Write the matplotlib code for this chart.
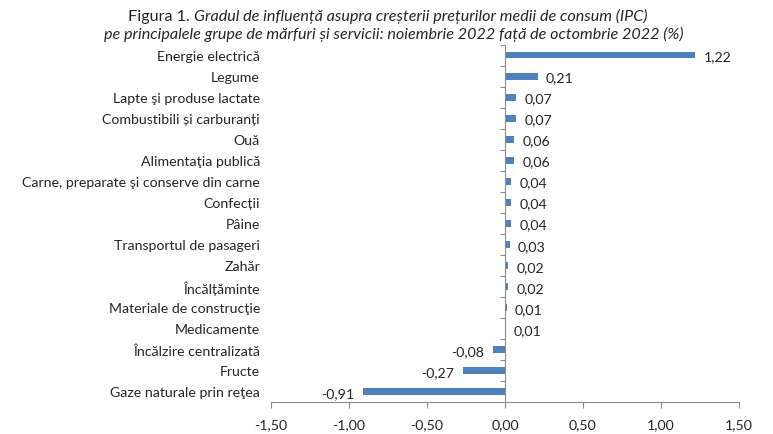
import matplotlib
matplotlib.use("Agg")
import matplotlib.pyplot as plt
import numpy as np

plt.rcParams['font.family'] = ['Lato', 'DejaVu Sans']

categories = ["Energie electrică", "Legume", "Lapte şi produse lactate",
              "Combustibili și carburanți", "Ouă", "Alimentaţia publică",
              "Carne, preparate şi conserve din carne", "Confecții", "Pâine",
              "Transportul de pasageri", "Zahăr", "Încălțăminte",
              "Materiale de construcţie", "Medicamente", "Încălzire centralizată",
              "Fructe", "Gaze naturale prin reţea"]
values = [1.22, 0.21, 0.07, 0.07, 0.06, 0.06, 0.04, 0.04, 0.04, 0.03,
          0.02, 0.02, 0.01, 0.004, -0.08, -0.27, -0.91]
value_labels = ["1,22", "0,21", "0,07", "0,07", "0,06", "0,06", "0,04", "0,04",
                "0,04", "0,03", "0,02", "0,02", "0,01", "0,01", "-0,08",
                "-0,27", "-0,91"]
xticks = [-1.5, -1.0, -0.5, 0.0, 0.5, 1.0, 1.5]

txt = '#262626'
grey = '#8c8c8c'
bar_color = '#4f81bd'
fs = 10.2

fig = plt.figure(figsize=(7.73, 4.35), dpi=100)
ax = fig.add_axes([0.3506, 0.0736, 0.6054, 0.8218])

y = np.arange(len(categories))
ax.barh(y, values, height=0.33, color=bar_color)

for yi, v, lab in zip(y, values, value_labels):
    if v >= 0:
        ax.annotate(lab, (v, yi), xytext=(6, -1), textcoords='offset points',
                    ha='left', va='center', fontsize=fs, color=txt)
    else:
        ax.annotate(lab, (v, yi), xytext=(-6, -1), textcoords='offset points',
                    ha='right', va='center', fontsize=fs, color=txt)

ax.set_xlim(-1.5, 1.5)
ax.set_ylim(len(categories) - 0.5, -0.5)
ax.set_xticks(xticks)
ax.set_xticklabels([f"{t:.2f}".replace('.', ',') for t in xticks])
ax.set_yticks(y)
ax.set_yticklabels(categories)

ax.tick_params(axis='y', length=0, pad=8, labelsize=fs, labelcolor=txt)
ax.tick_params(axis='x', length=4, width=0.8, color=grey, pad=8,
               labelsize=fs, labelcolor=txt)

for s in ['top', 'right', 'left']:
    ax.spines[s].set_visible(False)
ax.spines['bottom'].set_color(grey)
ax.spines['bottom'].set_linewidth(0.8)

# vertical axis at zero with ticks between categories
ax.axvline(0, color=grey, lw=0.8)
bounds = np.arange(len(categories)) - 0.5
ax.hlines(bounds, -0.03, 0, color=grey, lw=0.8)

t1 = fig.text(0.166, 0.961, "Figura 1. ", fontsize=11.6, color=txt,
              ha='left', va='center')
ax.annotate("Gradul de influență asupra creșterii prețurilor medii de consum (IPC)",
            xy=(1, 0), xycoords=t1, ha='left', va='bottom',
            fontsize=11.6, style='italic', color=txt)
fig.text(0.51, 0.92,
         "pe principalele grupe de mărfuri și servicii: noiembrie 2022 față de octombrie 2022 (%)",
         fontsize=11.6, style='italic', color=txt, ha='center', va='center')

fig.savefig("out.png", dpi=100)
